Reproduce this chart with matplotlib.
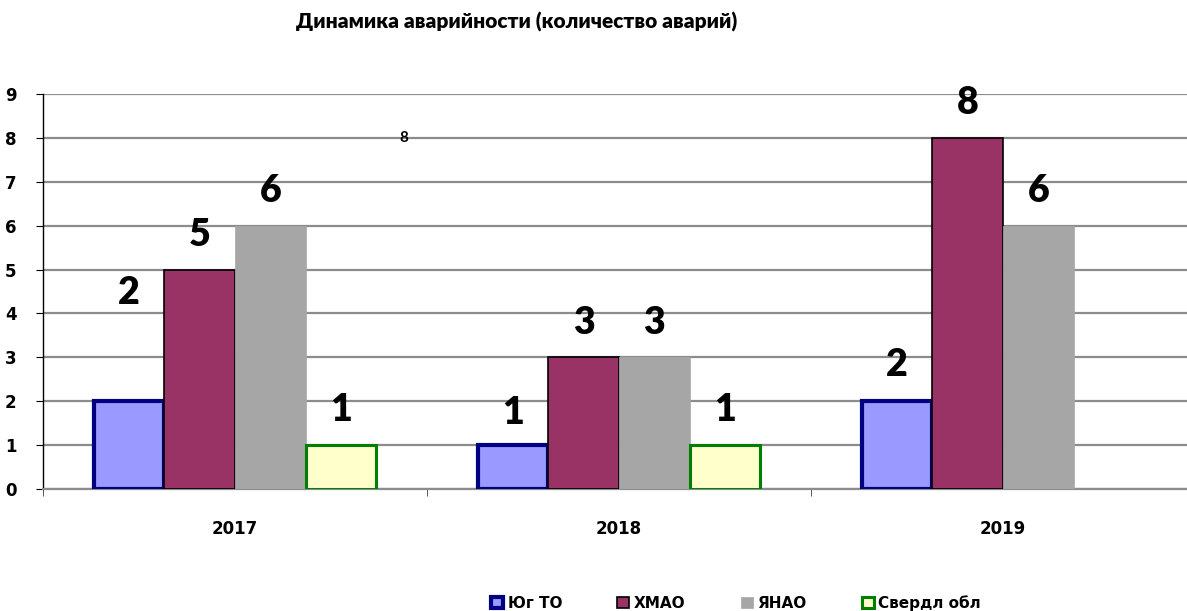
import numpy as np
import matplotlib
matplotlib.use('Agg')
import matplotlib.pyplot as plt
from matplotlib.ticker import FixedLocator

# data
years = ['2017', '2018', '2019']
series = ['Юг ТО', 'ХМАО', 'ЯНАО', 'Свердл обл']
yug_to = [2, 1, 2]
hmao = [5, 3, 8]
yanao = [6, 3, 6]
sverdl = [1, 1, np.nan]
values = [yug_to, hmao, yanao, sverdl]
stray_label = 8

face = ['#9999FF', '#993366', '#A6A6A6', '#FFFFCC']
edge = ['#000080', '#000000', '#A6A6A6', '#008000']
lw = [3.0, 1.2, 0.5, 2.2]
# label offset above bar top (points); the first 2017 label sits higher, as in the source
label_dy = [[78, 23, 26], [25, 25, 25], [25, 25, 25], [25, 25, 25]]

fig = plt.figure(figsize=(11.87, 6.11), dpi=100)
ax = fig.add_axes([43 / 1187, 1 - 489 / 611, 1 - 43 / 1187, (489 - 94) / 611])

x = np.arange(len(years))
w = 0.1836
for i, (vals, name) in enumerate(zip(values, series)):
    pos = x + (i - 1.5) * w
    bars = ax.bar(pos, vals, width=w, color=face[i], edgecolor=edge[i],
                  linewidth=lw[i], label=name, zorder=3)
    for j, (p, v) in enumerate(zip(pos, vals)):
        if np.isnan(v):
            continue
        ax.annotate('%d' % v, (p, v), xytext=(0, label_dy[i][j]),
                    textcoords='offset points', ha='center', va='center',
                    fontsize=27, fontweight='heavy', family='Lato', zorder=4)

ax.text(0.44, stray_label, '%d' % stray_label, ha='center', va='center',
        fontsize=11, fontweight='bold', family='Lato', zorder=4)

ax.set_ylim(0, 9)
ax.set_xlim(-0.5, -0.5 + 1144 / 384)
ax.set_yticks(range(10))
ax.yaxis.grid(True, color='#8C8C8C', linewidth=1.6, zorder=0)
ax.set_axisbelow(True)
ax.set_xticks(x)
ax.set_xticklabels(years)
ax.xaxis.set_minor_locator(FixedLocator([-0.5, 0.5, 1.5, 2.5]))
ax.tick_params(axis='x', which='major', length=0, pad=22, labelsize=12)
ax.tick_params(axis='x', which='minor', length=5, color='#404040')
ax.tick_params(axis='y', length=5, labelsize=12, pad=14)
for lab in ax.get_xticklabels() + ax.get_yticklabels():
    lab.set_fontweight('bold')
for s in ['top', 'right']:
    ax.spines[s].set_visible(False)
ax.spines['bottom'].set_color('#8C8C8C')
ax.spines['bottom'].set_linewidth(1.6)
ax.spines['left'].set_linewidth(1.0)

fig.text(517 / 1187, 1 - 22 / 611, 'Динамика аварийности (количество аварий)',
         ha='center', va='center', fontsize=15, fontweight='heavy', family='Lato')

leg = fig.legend(loc='center', bbox_to_anchor=(736 / 1187, 1 - 603 / 611), ncol=4,
                 frameon=False, handlelength=0.8, handleheight=0.8, handletextpad=0.3,
                 columnspacing=3.6, prop={'weight': 'bold', 'size': 11})

fig.savefig('out.png', dpi=100)
